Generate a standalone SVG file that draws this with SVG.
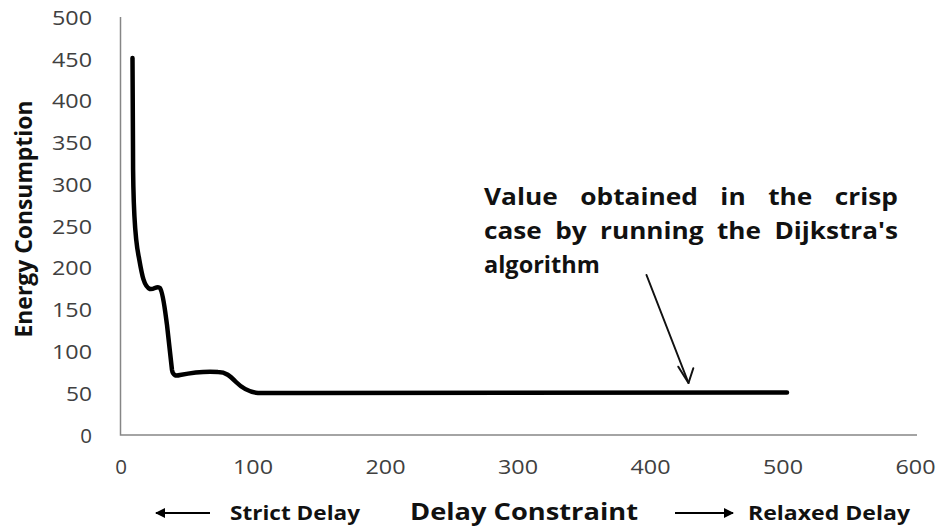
<svg xmlns="http://www.w3.org/2000/svg" width="942" height="531" viewBox="0 0 942 531">
  <style>
    .axis { stroke: #868686; stroke-width: 1.5; fill: none; }
    .tick { font-family: "Open Sans", "Liberation Sans", sans-serif; font-size: 20.5px; fill: #404040; }
    .ytick { text-anchor: end; }
    .xtick { text-anchor: middle; }
    .title { font-family: "Open Sans", "Liberation Sans", sans-serif; font-weight: 700; fill: #111; }
    .curve { stroke: #000; stroke-width: 4.5; fill: none; stroke-linejoin: round; stroke-linecap: round; }
    .pointer { stroke: #111; stroke-width: 2; fill: none; stroke-linecap: round; stroke-linejoin: round; }
  </style>
  <defs>
    <marker id="head" viewBox="0 0 10 10" refX="9" refY="5" markerWidth="13" markerHeight="10" markerUnits="userSpaceOnUse" orient="auto">
      <path d="M0,0 L10,5 L0,10 Z" fill="#000"/>
    </marker>
  </defs>
  <rect width="942" height="531" fill="#fff"/>

  <!-- plot axes -->
  <g id="axes">
    <path class="axis" d="M120.5,17 V435 H917"/>
  </g>

  <!-- y-axis values -->
  <g id="y-ticks" class="tick ytick">
    <text x="92" y="24.7" textLength="40" lengthAdjust="spacingAndGlyphs">500</text>
    <text x="92" y="66.5" textLength="40" lengthAdjust="spacingAndGlyphs">450</text>
    <text x="92" y="108.3" textLength="40" lengthAdjust="spacingAndGlyphs">400</text>
    <text x="92" y="150" textLength="40" lengthAdjust="spacingAndGlyphs">350</text>
    <text x="92" y="191.8" textLength="40" lengthAdjust="spacingAndGlyphs">300</text>
    <text x="92" y="233.6" textLength="40" lengthAdjust="spacingAndGlyphs">250</text>
    <text x="92" y="275.4" textLength="40" lengthAdjust="spacingAndGlyphs">200</text>
    <text x="92" y="317.2" textLength="40" lengthAdjust="spacingAndGlyphs">150</text>
    <text x="92" y="358.9" textLength="40" lengthAdjust="spacingAndGlyphs">100</text>
    <text x="92" y="400.7" textLength="26" lengthAdjust="spacingAndGlyphs">50</text>
    <text x="92" y="442.5">0</text>
  </g>

  <!-- x-axis values -->
  <g id="x-ticks" class="tick xtick">
    <text x="121" y="474">0</text>
    <text x="253" y="474" textLength="40" lengthAdjust="spacingAndGlyphs">100</text>
    <text x="385.5" y="474" textLength="40" lengthAdjust="spacingAndGlyphs">200</text>
    <text x="518" y="474" textLength="40" lengthAdjust="spacingAndGlyphs">300</text>
    <text x="650.5" y="474" textLength="40" lengthAdjust="spacingAndGlyphs">400</text>
    <text x="783" y="474" textLength="40" lengthAdjust="spacingAndGlyphs">500</text>
    <text x="915.5" y="474" textLength="40" lengthAdjust="spacingAndGlyphs">600</text>
  </g>

  <!-- axis titles -->
  <g id="y-title">
    <text class="title" font-size="23" text-anchor="middle" transform="translate(32,219) rotate(-90)" textLength="237" lengthAdjust="spacingAndGlyphs">Energy Consumption</text>
  </g>
  <g id="x-title">
    <text class="title" font-size="23" x="410" y="520" textLength="228" lengthAdjust="spacingAndGlyphs">Delay Constraint</text>
  </g>

  <!-- direction hints under the x axis -->
  <g id="strict-delay">
    <line x1="210" y1="513" x2="156" y2="513" stroke="#000" stroke-width="2" marker-end="url(#head)"/>
    <text class="title" font-size="19.5" x="230" y="520" textLength="130" lengthAdjust="spacingAndGlyphs">Strict Delay</text>
  </g>
  <g id="relaxed-delay">
    <line x1="675" y1="513" x2="733" y2="513" stroke="#000" stroke-width="2" marker-end="url(#head)"/>
    <text class="title" font-size="19.5" x="748" y="520" textLength="162" lengthAdjust="spacingAndGlyphs">Relaxed Delay</text>
  </g>

  <!-- energy vs delay constraint -->
  <g id="series">
    <path class="curve" d="M132.5,58 L133,150 C133,200 135,240 139,258 C142,275 144,287 150,289 C154,290 157,285 160,288 C163,292 165,310 167,325 L172,370 C173,376 176,376 180,375 C190,373 205,371 218,372 C226,372 230,376 236,382 C242,388 248,392 258,393 L300,393 L787,392.5"/>
  </g>

  <!-- annotation -->
  <g id="annotation">
    <text class="title" font-size="23.5" x="484" y="205" word-spacing="14" textLength="414" lengthAdjust="spacingAndGlyphs">Value obtained in the crisp</text>
    <text class="title" font-size="23.5" x="484" y="239" word-spacing="6" textLength="414" lengthAdjust="spacingAndGlyphs">case by running the Dijkstra's</text>
    <text class="title" font-size="23.5" x="484" y="273">algorithm</text>
  </g>
  <g id="connectors">
    <path class="pointer" d="M646.5,275 L688.5,383"/>
    <path class="pointer" d="M678.3,366.7 L688.5,383 L693.3,368.3"/>
  </g>
</svg>
